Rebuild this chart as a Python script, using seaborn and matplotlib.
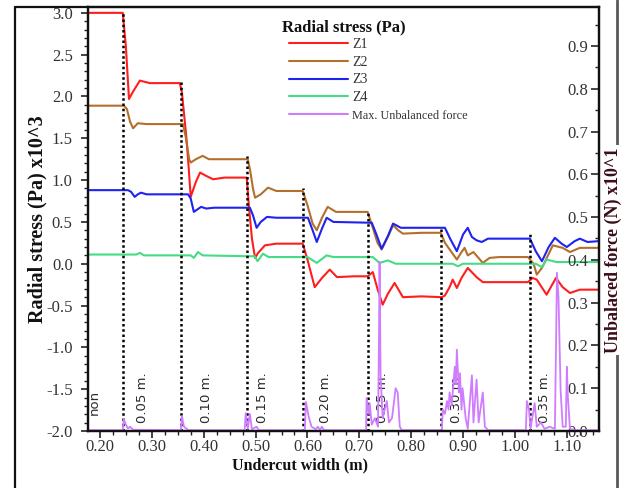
import matplotlib
matplotlib.use("Agg")
import matplotlib.pyplot as plt
from matplotlib.lines import Line2D
from matplotlib.ticker import MultipleLocator, AutoMinorLocator, FormatStrFormatter
import seaborn as sns

# Radial stress histories (x10^3 Pa) against undercut width (m)
z1_x = [0.177, 0.244, 0.250, 0.256, 0.264, 0.277, 0.296, 0.354, 0.358, 0.366, 0.370, 0.375,
        0.385, 0.393, 0.405, 0.418, 0.440, 0.483, 0.487, 0.493, 0.499, 0.505, 0.518, 0.540,
        0.591, 0.600, 0.614, 0.628, 0.643, 0.657, 0.690, 0.716, 0.726, 0.735, 0.745, 0.755,
        0.768, 0.784, 0.820, 0.859, 0.865, 0.874, 0.880, 0.888, 0.897, 0.909, 0.926, 0.938,
        0.990, 1.025, 1.034, 1.042, 1.061, 1.079, 1.092, 1.106, 1.125, 1.161]
z1_y = [3.00, 3.00, 2.60, 1.97, 2.06, 2.19, 2.16, 2.16, 2.05, 1.55, 1.24, 0.80,
        0.98, 1.09, 1.05, 1.01, 1.03, 1.03, 0.70, 0.30, 0.07, 0.13, 0.22, 0.24,
        0.24, 0.05, -0.28, -0.17, -0.07, -0.16, -0.15, -0.15, -0.10, -0.30, -0.49, -0.36,
        -0.23, -0.40, -0.39, -0.40, -0.38, -0.28, -0.19, -0.29, -0.17, -0.05, -0.16, -0.22,
        -0.22, -0.22, -0.17, -0.19, -0.37, -0.17, -0.28, -0.35, -0.31, -0.31]

z2_x = [0.177, 0.246, 0.252, 0.258, 0.264, 0.273, 0.290, 0.360, 0.366, 0.372, 0.375, 0.385,
        0.398, 0.410, 0.485, 0.490, 0.495, 0.499, 0.510, 0.524, 0.540, 0.591, 0.600, 0.610,
        0.618, 0.628, 0.639, 0.655, 0.716, 0.725, 0.735, 0.743, 0.755, 0.765, 0.775, 0.784,
        0.820, 0.857, 0.865, 0.888, 0.897, 0.903, 0.909, 0.920, 0.938, 0.951, 0.970, 1.025,
        1.036, 1.042, 1.052, 1.073, 1.092, 1.106, 1.125, 1.161]
z2_y = [1.89, 1.89, 1.85, 1.70, 1.62, 1.68, 1.67, 1.67, 1.50, 1.25, 1.21, 1.25,
        1.29, 1.25, 1.25, 1.10, 0.90, 0.79, 0.83, 0.91, 0.87, 0.87, 0.70, 0.48,
        0.40, 0.55, 0.68, 0.62, 0.62, 0.45, 0.25, 0.17, 0.32, 0.46, 0.40, 0.36,
        0.37, 0.37, 0.25, 0.05, 0.14, 0.19, 0.10, 0.14, 0.01, 0.07, 0.08, 0.08,
        0.00, -0.13, -0.05, 0.22, 0.19, 0.14, 0.19, 0.19]

z3_x = [0.177, 0.254, 0.260, 0.267, 0.273, 0.279, 0.290, 0.370, 0.375, 0.381, 0.395, 0.405,
        0.420, 0.489, 0.495, 0.502, 0.510, 0.522, 0.540, 0.601, 0.610, 0.618, 0.628, 0.637,
        0.650, 0.724, 0.733, 0.743, 0.755, 0.765, 0.780, 0.865, 0.875, 0.888, 0.900, 0.909,
        0.917, 0.926, 0.936, 0.948, 0.970, 1.029, 1.040, 1.052, 1.065, 1.077, 1.090, 1.100,
        1.115, 1.125, 1.140, 1.161]
z3_y = [0.88, 0.88, 0.86, 0.80, 0.83, 0.85, 0.83, 0.83, 0.78, 0.62, 0.68, 0.66,
        0.67, 0.67, 0.58, 0.43, 0.50, 0.56, 0.55, 0.55, 0.40, 0.26, 0.42, 0.55,
        0.50, 0.49, 0.35, 0.18, 0.33, 0.48, 0.43, 0.43, 0.30, 0.15, 0.35, 0.43,
        0.32, 0.28, 0.26, 0.30, 0.30, 0.30, 0.15, 0.03, 0.20, 0.31, 0.24, 0.20,
        0.27, 0.30, 0.26, 0.27]

z4_x = [0.177, 0.270, 0.277, 0.285, 0.375, 0.381, 0.389, 0.398, 0.480, 0.498, 0.504, 0.514,
        0.525, 0.600, 0.618, 0.637, 0.650, 0.726, 0.739, 0.755, 0.770, 0.880, 0.890, 0.900,
        1.040, 1.052, 1.061, 1.080, 1.161]
z4_y = [0.11, 0.11, 0.13, 0.10, 0.10, 0.07, 0.14, 0.10, 0.09, 0.09, 0.03, 0.12,
        0.08, 0.08, 0.01, 0.10, 0.08, 0.08, 0.01, 0.04, 0.00, 0.00, -0.03, 0.00,
        0.00, -0.04, 0.05, 0.02, 0.02]

# Maximum unbalanced force (x10^1 N)
force_x = [0.177, 0.244, 0.246, 0.250, 0.254, 0.258, 0.264, 0.356, 0.358, 0.362, 0.366, 0.371,
           0.479, 0.481, 0.485, 0.489, 0.493, 0.502, 0.506, 0.595, 0.597, 0.603, 0.608, 0.616,
           0.620, 0.624, 0.628, 0.632, 0.713, 0.714, 0.718, 0.720, 0.724, 0.730, 0.736, 0.738,
           0.739, 0.741, 0.745, 0.749, 0.753, 0.757, 0.763, 0.770, 0.774, 0.778, 0.782, 0.859,
           0.861, 0.865, 0.869, 0.872, 0.874, 0.878, 0.884, 0.886, 0.888, 0.892, 0.894, 0.897,
           0.899, 0.905, 0.909, 0.917, 0.920, 0.926, 0.930, 0.938, 0.942, 0.948, 1.021, 1.023,
           1.027, 1.030, 1.038, 1.042, 1.050, 1.057, 1.067, 1.077, 1.081, 1.084, 1.088, 1.092,
           1.098, 1.100, 1.102, 1.106, 1.115, 1.161]
force_y = [0.002, 0.002, 0.028, 0.015, 0.006, 0.010, 0.003, 0.002, 0.035, 0.010, 0.006, 0.002,
           0.002, 0.042, 0.005, 0.040, 0.004, 0.010, 0.002, 0.002, 0.068, 0.030, 0.010, 0.004,
           0.010, 0.003, 0.010, 0.002, 0.002, 0.077, 0.040, 0.065, 0.015, 0.030, 0.010, 0.230,
           0.395, 0.130, 0.030, 0.050, 0.070, 0.020, 0.030, 0.100, 0.090, 0.010, 0.002, 0.002,
           0.050, 0.040, 0.070, 0.050, 0.090, 0.060, 0.150, 0.110, 0.190, 0.090, 0.135, 0.050,
           0.100, 0.030, 0.005, 0.130, 0.020, 0.120, 0.020, 0.090, 0.010, 0.002, 0.002, 0.070,
           0.050, 0.005, 0.065, 0.010, 0.020, 0.005, 0.010, 0.005, 0.370, 0.310, 0.095, 0.010,
           0.010, 0.150, 0.080, 0.005, 0.002, 0.002]

# Excavation stages: boundary positions and the stress level each marker reaches
stage_x = [0.244, 0.356, 0.483, 0.591, 0.716, 0.857, 1.029]
stage_top = [3.00, 2.17, 1.29, 0.91, 0.63, 0.43, 0.37]
stage_labels = ["non", "0.05 m.", "0.10 m.", "0.15 m.", "0.20 m.", "0.25 m.", "0.30 m.", "0.35 m."]
stage_label_x = [0.190, 0.283, 0.406, 0.514, 0.634, 0.745, 0.888, 1.057]

series_names = ["Z1", "Z2", "Z3", "Z4"]
series_colors = ["#ff1e1e", "#b36f2c", "#1f22f0", "#44dc84"]
force_color = "#d07cff"

sns.set_theme(style="ticks")
plt.rcParams["font.family"] = ["Liberation Serif", "DejaVu Serif"]
plt.rcParams["axes.unicode_minus"] = False

W, H = 621, 488
fig = plt.figure(figsize=(W / 100, H / 100), dpi=100)
fig.patch.set_facecolor("white")
ax = fig.add_axes([88 / W, 1 - 431 / H, (599 - 88) / W, (431 - 7) / H])
ax2 = ax.twinx()

for xs, ys, c in zip([z1_x, z2_x, z3_x, z4_x], [z1_y, z2_y, z3_y, z4_y], series_colors):
    sns.lineplot(x=xs, y=ys, ax=ax, color=c, linewidth=1.5, sort=False, estimator=None)

ax.vlines(stage_x, -2.0, stage_top, colors="black", linestyles=[(0, (1, 1.1))],
          linewidth=1.8, zorder=4)

for lbl, lx in zip(stage_labels, stage_label_x):
    ax.text(lx, -1.90 if lbl != "non" else -1.81, lbl, rotation=90, ha="center", va="bottom",
            fontsize=9.5, family="DejaVu Sans", color="#2a2a2a", zorder=5)

sns.lineplot(x=force_x, y=force_y, ax=ax2, color=force_color, linewidth=1.3, sort=False,
             estimator=None)

# Left axis
ax.set_xlim(0.177, 1.162)
ax.set_ylim(-2.0, 3.07)
ax.xaxis.set_major_locator(MultipleLocator(0.1))
ax.xaxis.set_minor_locator(AutoMinorLocator(4))
ax.xaxis.set_major_formatter(FormatStrFormatter("%.2f"))
ax.yaxis.set_major_locator(MultipleLocator(0.5))
ax.yaxis.set_minor_locator(AutoMinorLocator(5))
ax.yaxis.set_major_formatter(FormatStrFormatter("%.1f"))
ax.tick_params(axis="both", which="major", direction="out", length=5, width=1.2,
               labelsize=12, labelcolor="#333333", color="#222222")
ax.tick_params(axis="both", which="minor", direction="out", length=3, width=1.0, color="#222222")
ax.tick_params(axis="x", pad=1)
ax.tick_params(axis="y", pad=6)
ax.set_xlabel("")
ax.set_ylabel("")

# Right axis
ax2.set_ylim(0, 0.991)
ax2.yaxis.set_major_locator(MultipleLocator(0.1))
ax2.yaxis.set_minor_locator(AutoMinorLocator(2))
ax2.yaxis.set_major_formatter(FormatStrFormatter("%.1f"))
ax2.tick_params(axis="y", which="major", direction="in", length=6, width=1.2,
                labelsize=12, labelcolor="#333333", pad=-23)
ax2.tick_params(axis="y", which="minor", direction="in", length=3, width=1.0)
ax2.set_ylabel("")

for a in (ax, ax2):
    for s in a.spines.values():
        s.set_color("#111111")
        s.set_linewidth(1.6)

# Axis titles
fig.text(37 / W, 1 - 219 / H, "Radial stress (Pa) x10^3", rotation=90, ha="center", va="center",
         fontsize=14.5, fontweight="bold", color="#111111")
fig.text(300 / W, 1 - 465 / H, "Undercut width (m)", ha="center", va="center",
         fontsize=11.5, fontweight="bold", color="#111111")

# Outer frame
fig.add_artist(Line2D([15 / W, 15 / W], [0, 1 - 7 / H], transform=fig.transFigure,
                      color="#111111", lw=1.6))
fig.add_artist(Line2D([15 / W, 88 / W], [1 - 7 / H, 1 - 7 / H], transform=fig.transFigure,
                      color="#111111", lw=1.6))
fig.add_artist(Line2D([617 / W, 617 / W], [0, 1], transform=fig.transFigure,
                      color="#5a5a5a", lw=2.0))
fig.text(613 / W, 1 - 250 / H, "Unbalaced force (N) x10^1", rotation=90, ha="center",
         va="center", fontsize=13, fontweight="bold", color="#3a0d18",
         bbox=dict(facecolor="white", edgecolor="none", pad=1.5), zorder=10)

# Legend
ax.text((282 - 88) / 511, (431 - 27) / 424, "Radial stress (Pa)", transform=ax.transAxes,
        ha="left", va="center", fontsize=12, fontweight="bold", color="#111111")
handles = [Line2D([], [], color=c, lw=1.5) for c in series_colors]
handles.append(Line2D([], [], color=force_color, lw=1.5))
labels = series_names + ["Max. Unbalanced force"]
leg = ax.legend(handles, labels, loc="upper left",
                bbox_to_anchor=((289 - 88) / 511, (431 - 38) / 424),
                frameon=False, fontsize=10, handlelength=4.25, handletextpad=0.3,
                labelspacing=0.34, borderpad=0, borderaxespad=0)
for t in leg.get_texts():
    t.set_color("#333333")
leg.get_texts()[-1].set_fontsize(8.8)

fig.savefig("out.png", dpi=100, facecolor="white")
